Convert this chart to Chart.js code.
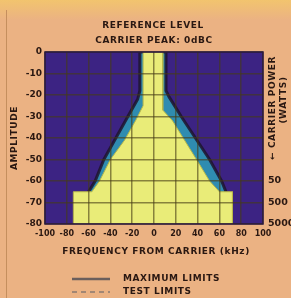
<!DOCTYPE html>
<html>
<head>
<meta charset="utf-8">
<script src="https://cdn.jsdelivr.net/npm/chart.js@4.4.1/dist/chart.umd.min.js"></script>
<style>
  html, body { margin: 0; padding: 0; background: #ebb283; }
  #wrap { width: 291px; height: 298px; }
</style>
</head>
<body>
<div id="wrap"><canvas id="myChart" width="291" height="298"></canvas></div>
<script>
// test limits (yellow), upper edge of the allowed area, kHz / dB
var testFreq = [-74, -74, -57, -50, -40, -27, -17, -10, -10, 8, 8, 17, 28, 39, 51, 60, 72, 72];
var testAmp  = [-80, -65, -65, -60, -50, -41, -32, -25, 0, 0, -27, -32, -41, -50, -60, -65, -65, -80];

// maximum limits (teal band)
var maxFreq = [-60, -60, -54, -46, -35, -24, -15, -13, -13, 11, 11, 14, 25, 38, 51, 62, 66, 66];
var maxAmp  = [-80, -65, -60, -50, -40, -30, -22, -18, 0, 0, -18, -21, -30, -40, -50, -60, -65, -80];

// right axis: carrier power (watts) against amplitude
var powerAmp = [-60, -70, -80];
var powerLabels = ['50', '500', '5000'];

var textColor = '#2a1812';
var fontName = '"DejaVu Sans", sans-serif';

function toPoints(xs, ys) {
    return xs.map(function (x, i) { return { x: x, y: ys[i] }; });
}

// fond violet de la zone de tracé + textes annexes
var decorPlugin = {
    id: 'decor',
    beforeDraw: function (chart) {
        var ctx = chart.ctx;
        var a = chart.chartArea;
        ctx.save();
        var g = ctx.createLinearGradient(0, 0, 0, 20);
        g.addColorStop(0, '#f2c46e');
        g.addColorStop(1, '#ebb283');
        ctx.fillStyle = g;
        ctx.fillRect(0, 0, chart.width, 20);
        ctx.strokeStyle = '#c58f5e';
        ctx.lineWidth = 1;
        ctx.beginPath();
        ctx.moveTo(6.5, 10);
        ctx.lineTo(6.5, chart.height);
        ctx.stroke();
        ctx.fillStyle = '#3c2383';
        ctx.fillRect(a.left, a.top, a.right - a.left, a.bottom - a.top);
        ctx.restore();
    },
    afterDraw: function (chart) {
        var ctx = chart.ctx;
        var a = chart.chartArea;
        ctx.save();
        ctx.fillStyle = textColor;
        ctx.textAlign = 'center';
        ctx.textBaseline = 'middle';
        ctx.font = 'bold 9px ' + fontName;
        ctx.letterSpacing = '0.6px';
        ctx.fillText('REFERENCE LEVEL', 153, 26);
        ctx.fillText('CARRIER PEAK: 0dBC', 154, 41);
        ctx.fillText('FREQUENCY FROM CARRIER (kHz)', 156, 252);

        // axe de gauche
        ctx.save();
        ctx.translate(15, 138);
        ctx.rotate(-Math.PI / 2);
        ctx.fillText('AMPLITUDE', 0, 0);
        ctx.restore();

        // axe de droite
        ctx.save();
        ctx.translate(273, 108);
        ctx.rotate(-Math.PI / 2);
        ctx.fillText('\u2190 CARRIER POWER', 0, 0);
        ctx.fillText('(WATTS)', 8, 11);
        ctx.restore();

        // légende
        ctx.strokeStyle = '#6b5f5c';
        ctx.lineWidth = 2.5;
        ctx.beginPath();
        ctx.moveTo(72, 279);
        ctx.lineTo(110, 279);
        ctx.stroke();
        ctx.setLineDash([5, 4]);
        ctx.lineWidth = 1.5;
        ctx.strokeStyle = '#8a7a70';
        ctx.beginPath();
        ctx.moveTo(72, 292);
        ctx.lineTo(110, 292);
        ctx.stroke();
        ctx.setLineDash([]);
        ctx.textAlign = 'left';
        ctx.fillText('MAXIMUM LIMITS', 123, 279);
        ctx.fillText('TEST LIMITS', 123, 292);

        // cadre
        ctx.strokeStyle = '#2a1840';
        ctx.lineWidth = 1.5;
        ctx.strokeRect(a.left, a.top, a.right - a.left, a.bottom - a.top);
        ctx.restore();
    }
};

var ctx = document.getElementById('myChart').getContext('2d');
var myChart = new Chart(ctx, {
    type: 'line',
    data: {
        datasets: [{
            label: 'Test limits',
            data: toPoints(testFreq, testAmp),
            backgroundColor: '#e9ec78',
            borderColor: '#b9b94a',
            borderWidth: 1,
            pointRadius: 0,
            fill: 'start',
            tension: 0
        }, {
            label: 'Maximum limits',
            data: toPoints(maxFreq, maxAmp),
            backgroundColor: '#2f8cb0',
            borderColor: 'rgba(30, 20, 45, 0.85)',
            borderWidth: 3,
            pointRadius: 0,
            fill: 'start',
            tension: 0
        }]
    },
    options: {
        responsive: false,
        animation: false,
        layout: { padding: { top: 52, left: 0, right: 0, bottom: 0 } },
        plugins: {
            legend: { display: false },
            title: { display: false },
            tooltip: { enabled: false }
        },
        scales: {
            x: {
                type: 'linear',
                min: -100,
                max: 100,
                border: { display: false },
                grid: { z: 1, color: 'rgba(70, 60, 20, 0.6)', lineWidth: 1.5, drawTicks: false },
                ticks: {
                    stepSize: 20,
                    autoSkip: false,
                    padding: 5,
                    maxRotation: 0,
                    color: textColor,
                    font: { family: fontName, size: 8, weight: 'bold' }
                },
                afterFit: function (scale) { scale.height = 74; }
            },
            y: {
                min: -80,
                max: 0,
                border: { display: false },
                grid: { z: 1, color: 'rgba(70, 60, 20, 0.6)', lineWidth: 1.5, drawTicks: false },
                ticks: {
                    stepSize: 10,
                    autoSkip: false,
                    padding: 3,
                    color: textColor,
                    font: { family: fontName, size: 9, weight: 'bold' }
                },
                afterFit: function (scale) { scale.width = 45; }
            },
            y2: {
                position: 'right',
                min: -80,
                max: 0,
                border: { display: false },
                grid: { display: false, drawTicks: false },
                afterBuildTicks: function (scale) {
                    scale.ticks = powerAmp.map(function (v) { return { value: v }; });
                },
                ticks: {
                    padding: 5,
                    autoSkip: false,
                    color: textColor,
                    font: { family: fontName, size: 9.5, weight: 'bold' },
                    callback: function (value) {
                        var i = powerAmp.indexOf(value);
                        return i >= 0 ? powerLabels[i] : '';
                    }
                },
                afterFit: function (scale) { scale.width = 28; }
            }
        }
    },
    plugins: [decorPlugin]
});
</script>
</body>
</html>
